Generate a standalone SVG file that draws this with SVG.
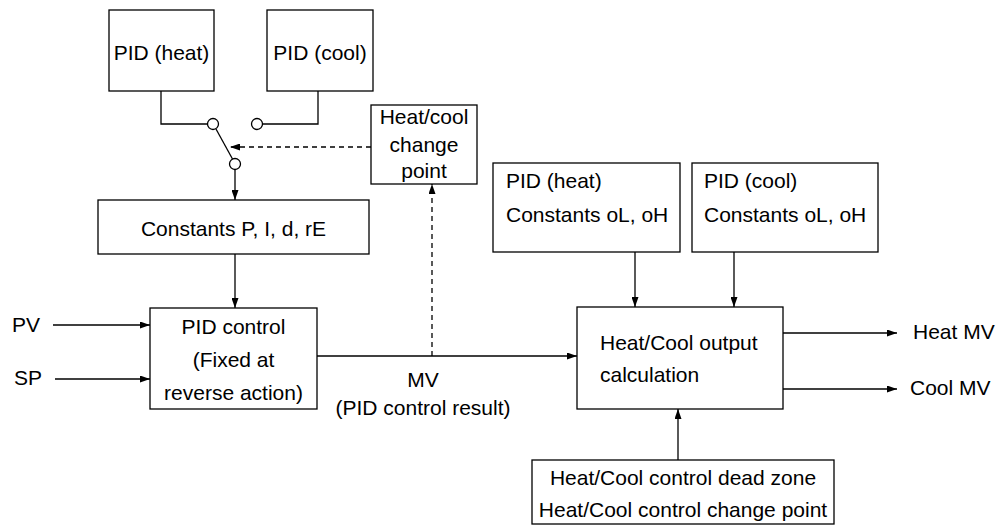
<svg xmlns="http://www.w3.org/2000/svg" width="1000" height="525" viewBox="0 0 1000 525">
<style>
.box{fill:#fff;stroke:#000;stroke-width:1.3}
.ln{fill:none;stroke:#000;stroke-width:1.3}
.dash{fill:none;stroke:#000;stroke-width:1.3;stroke-dasharray:5 4}
.t{font-family:"Liberation Sans",Arial,sans-serif;font-size:21px;fill:#000}
.c{text-anchor:middle}
.sw{fill:#fff;stroke:#000;stroke-width:1.3}
</style>
<defs>
<marker id="ah" markerWidth="10" markerHeight="7" refX="10" refY="3.5" orient="auto" markerUnits="userSpaceOnUse">
<path d="M0,0 L10,3.5 L0,7 Z" fill="#000"/>
</marker>
</defs>
<rect width="1000" height="525" fill="#fff"/>
<g id="connectors">
<path class="ln" d="M161,91 V124 H207.5"/>
<path class="ln" d="M262.5,124 H318 V91"/>
<path class="ln" d="M216,129 L232.5,159"/>
<path class="ln" d="M235,169.5 V200" marker-end="url(#ah)"/>
<path class="dash" d="M371,147 H230" marker-end="url(#ah)"/>
<path class="ln" d="M235,254 V308" marker-end="url(#ah)"/>
<path class="ln" d="M53,325 H150" marker-end="url(#ah)"/>
<path class="ln" d="M55,379 H150" marker-end="url(#ah)"/>
<path class="ln" d="M317,356 H577" marker-end="url(#ah)"/>
<path class="dash" d="M432,356 V184" marker-end="url(#ah)"/>
<path class="ln" d="M635,252 V307" marker-end="url(#ah)"/>
<path class="ln" d="M734,252 V307" marker-end="url(#ah)"/>
<path class="ln" d="M678,460 V409" marker-end="url(#ah)"/>
<path class="ln" d="M783,333 H897" marker-end="url(#ah)"/>
<path class="ln" d="M783,389 H897" marker-end="url(#ah)"/>
<circle class="sw" cx="213" cy="124" r="5.5"/>
<circle class="sw" cx="257" cy="124" r="5.5"/>
<circle class="sw" cx="235" cy="164" r="5.5"/>
</g>
<g id="pid-heat">
<rect class="box" x="109" y="10" width="105" height="81"/>
<text class="t c" x="161.5" y="60">PID (heat)</text>
</g>
<g id="pid-cool">
<rect class="box" x="267" y="10" width="106" height="81"/>
<text class="t c" x="320" y="60">PID (cool)</text>
</g>
<g id="change-point">
<rect class="box" x="371" y="105" width="106" height="79"/>
<text class="t c" x="424" y="124">Heat/cool</text>
<text class="t c" x="424" y="152">change</text>
<text class="t c" x="424" y="178">point</text>
</g>
<g id="constants">
<rect class="box" x="98" y="200" width="271" height="54"/>
<text class="t c" x="233.5" y="236">Constants P, I, d, rE</text>
</g>
<g id="pid-control">
<rect class="box" x="150" y="308" width="167" height="101"/>
<text class="t c" x="233.5" y="334">PID control</text>
<text class="t c" x="233.5" y="367">(Fixed at</text>
<text class="t c" x="233.5" y="400">reverse action)</text>
</g>
<g id="pid-heat-const">
<rect class="box" x="493" y="163" width="187" height="89"/>
<text class="t" x="506" y="188">PID (heat)</text>
<text class="t" x="506" y="222">Constants oL, oH</text>
</g>
<g id="pid-cool-const">
<rect class="box" x="692" y="163" width="186" height="89"/>
<text class="t" x="704" y="188">PID (cool)</text>
<text class="t" x="704" y="222">Constants oL, oH</text>
</g>
<g id="output-calc">
<rect class="box" x="577" y="307" width="206" height="102"/>
<text class="t" x="600" y="350">Heat/Cool output</text>
<text class="t" x="600" y="382">calculation</text>
</g>
<g id="dead-zone">
<rect class="box" x="532" y="460" width="302" height="64"/>
<text class="t c" x="683" y="485">Heat/Cool control dead zone</text>
<text class="t c" x="683" y="517">Heat/Cool control change point</text>
</g>
<g id="labels">
<text class="t" x="12" y="332">PV</text>
<text class="t" x="14" y="385">SP</text>
<text class="t c" x="423" y="387">MV</text>
<text class="t c" x="423" y="415">(PID control result)</text>
<text class="t" x="913" y="339">Heat MV</text>
<text class="t" x="910" y="395">Cool MV</text>
</g>
</svg>
